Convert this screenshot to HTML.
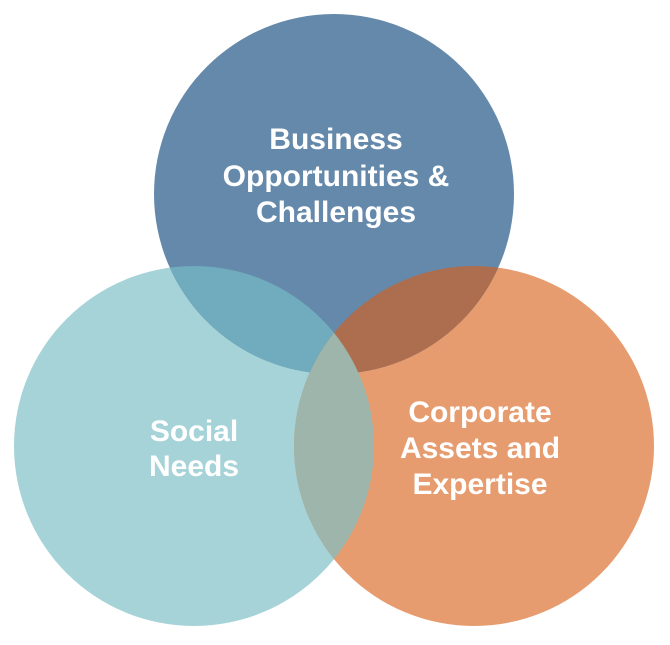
<!DOCTYPE html>
<html><head><style>
html,body{margin:0;padding:0;background:#fff;width:670px;height:645px;overflow:hidden}
text{font-family:"Liberation Sans",Arial,sans-serif;font-weight:bold;font-size:30px;fill:#fff;text-anchor:middle}
</style></head><body>
<svg width="670" height="645" viewBox="0 0 670 645" xmlns="http://www.w3.org/2000/svg">
<defs>
<clipPath id="cl"><circle cx="194" cy="446" r="180"/></clipPath>
<clipPath id="cr"><circle cx="474" cy="446" r="180"/></clipPath>
</defs>
<circle cx="194" cy="446" r="180" fill="#A6D3D8"/>
<circle cx="474" cy="446" r="180" fill="#E69C6E"/>
<circle cx="334" cy="194" r="180" fill="#6589AA"/>
<circle cx="334" cy="194" r="180" fill="#70ACBD" clip-path="url(#cl)"/>
<circle cx="334" cy="194" r="180" fill="#AC6E4E" clip-path="url(#cr)"/>
<g clip-path="url(#cl)"><circle cx="474" cy="446" r="180" fill="#9DB5AB"/></g>
<text x="336" y="149">Business</text>
<text x="336" y="186">Opportunities &amp;</text>
<text x="336" y="222">Challenges</text>
<text x="194" y="441">Social</text>
<text x="194" y="476">Needs</text>
<text x="480" y="422">Corporate</text>
<text x="480" y="458">Assets and</text>
<text x="480" y="494">Expertise</text>
</svg>
</body></html>
